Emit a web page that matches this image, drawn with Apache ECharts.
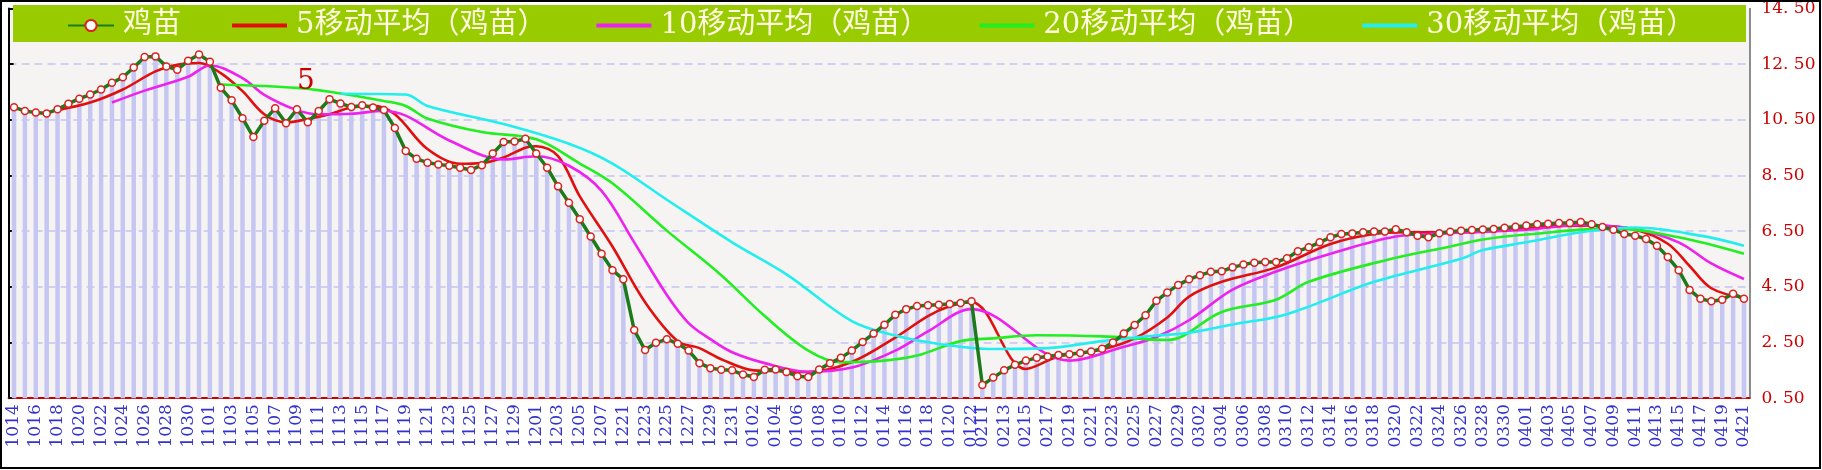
<!DOCTYPE html>
<html>
<head>
<meta charset="utf-8">
<script src="https://cdn.jsdelivr.net/npm/echarts@6/dist/echarts.min.js"></script>
<style>
  html, body { margin: 0; padding: 0; background: #fff; }
  #main { width: 1822px; height: 470px; }
</style>
</head>
<body>
<div id="main"></div>
<script>
// date ranges [month, firstDay, lastDay] -> category labels MMDD
const dateRanges = [
  ['10', 14, 31], ['11', 1, 30], ['12', 1, 8], ['12', 21, 31],
  ['01', 1, 22], ['02', 11, 29], ['03', 1, 31], ['04', 1, 21]
];
const categories = [];
dateRanges.forEach(([m, a, b]) => {
  for (let d = a; d <= b; d++) categories.push(m + String(d).padStart(2, '0'));
});

// 鸡苗 price
const chickValues = [
  10.95, 10.82, 10.76, 10.73, 10.88, 11.08, 11.26, 11.41, 11.59, 11.83,
  12.03, 12.38, 12.76, 12.78, 12.42, 12.30, 12.62, 12.85, 12.59, 11.65,
  11.20, 10.56, 9.88, 10.47, 10.92, 10.38, 10.88, 10.41, 10.82, 11.24,
  11.09, 10.96, 11.02, 10.94, 10.85, 10.21, 9.38, 9.10, 8.96, 8.90,
  8.85, 8.78, 8.70, 8.87, 9.29, 9.70, 9.72, 9.82, 9.29, 8.78,
  8.11, 7.52, 6.93, 6.31, 5.69, 5.10, 4.77, 2.95, 2.23, 2.49,
  2.62, 2.46, 2.21, 1.76, 1.58, 1.52, 1.50, 1.35, 1.26, 1.52,
  1.53, 1.44, 1.29, 1.26, 1.53, 1.76, 1.95, 2.21, 2.52, 2.82,
  3.14, 3.50, 3.70, 3.81, 3.84, 3.86, 3.88, 3.92, 3.98, 0.97,
  1.24, 1.50, 1.70, 1.85, 1.95, 2.00, 2.05, 2.08, 2.12, 2.18,
  2.28, 2.50, 2.82, 3.13, 3.48, 4.00, 4.30, 4.57, 4.77, 4.92,
  5.04, 5.06, 5.20, 5.30, 5.37, 5.39, 5.39, 5.53, 5.78, 5.92,
  6.10, 6.28, 6.40, 6.42, 6.46, 6.49, 6.49, 6.57, 6.46, 6.34,
  6.28, 6.43, 6.48, 6.52, 6.54, 6.56, 6.58, 6.62, 6.66, 6.70,
  6.75, 6.77, 6.79, 6.79, 6.83, 6.75, 6.65, 6.55, 6.40, 6.34,
  6.22, 5.98, 5.57, 5.10, 4.39, 4.07, 3.98, 4.04, 4.25, 4.07
];

// moving averages as [category index, value]
const ma5 = [[4,10.85],[7,11.12],[10,11.59],[13,12.24],[15,12.48],[17,12.54],[19,12.18],[21,11.53],[23,10.70],[25,10.41],[27,10.53],[29,10.70],[31,10.94],[33,11.00],[35,10.70],[38,9.45],[41,8.92],[43,8.95],[45,9.15],[47,9.50],[48,9.55],[50,9.20],[52,7.75],[55,5.95],[58,3.95],[61,2.55],[63,2.30],[65,1.90],[68,1.50],[71,1.47],[73,1.44],[77,1.80],[81,2.68],[84,3.45],[86,3.80],[88,3.95],[93,1.55],[96,2.00],[100,2.25],[103,2.65],[106,3.40],[108,4.15],[111,4.68],[116,5.20],[121,6.04],[125,6.40],[128,6.46],[133,6.46],[139,6.60],[141,6.69],[145,6.70],[149,6.55],[152,6.05],[154,5.25],[156,4.45],[159,4.10]];
const ma10 = [[9,11.12],[12,11.55],[16,12.05],[18,12.45],[21,12.00],[23,11.40],[26,10.85],[28,10.70],[31,10.72],[34,10.82],[36,10.65],[40,9.76],[45,9.08],[48,9.19],[51,8.85],[54,7.95],[57,6.10],[60,4.21],[62,3.20],[64,2.62],[66,2.15],[69,1.76],[73,1.45],[77,1.60],[81,2.21],[84,2.90],[88,3.70],[97,1.85],[102,2.35],[105,2.70],[108,3.30],[112,4.40],[116,5.05],[121,5.69],[127,6.31],[132,6.43],[139,6.55],[144,6.72],[149,6.57],[153,6.10],[156,5.34],[159,4.78]];
const ma20 = [[19,11.77],[26,11.65],[29,11.51],[34,11.18],[36,11.00],[38,10.55],[43,10.06],[48,9.80],[52,8.93],[55,8.22],[60,6.52],[65,4.92],[69,3.45],[73,2.21],[76,1.79],[80,1.85],[83,2.03],[87,2.55],[90,2.65],[94,2.76],[100,2.72],[106,2.59],[111,3.60],[116,4.04],[119,4.68],[126,5.45],[132,5.95],[135,6.20],[139,6.38],[147,6.60],[153,6.28],[159,5.69]];
const ma30 = [[30,11.44],[36,11.41],[38,11.00],[45,10.35],[51,9.64],[55,8.93],[60,7.63],[66,6.10],[71,4.95],[77,3.27],[81,2.75],[85,2.45],[90,2.27],[95,2.30],[100,2.55],[105,2.75],[108,2.85],[112,3.15],[117,3.52],[125,4.68],[133,5.51],[135,5.82],[139,6.10],[144,6.46],[149,6.63],[155,6.34],[159,5.98]];

const seriesNames = ['鸡苗', '5移动平均（鸡苗）', '10移动平均（鸡苗）', '20移动平均（鸡苗）', '30移动平均（鸡苗）'];
const yMin = 0.5, yMax = 14.5, yStep = 2;

const chart = echarts.init(document.getElementById('main'));
const serif = 'DejaVu Serif, Liberation Serif, Noto Sans CJK SC';
const maLine = (name, data, color) => ({
  name, type: 'line', data, symbol: 'none', smooth: 0.35,
  lineStyle: { color, width: 2.6 }, itemStyle: { color }, z: 3
});
const yBase = {
  type: 'value', min: yMin, max: yMax, interval: yStep
};
const legendText = { color: '#fffbe0', fontSize: 29, fontFamily: serif, padding: [0, 0, 0, 4] };
const labelEvery = (i) => (i <= 88 ? i % 2 === 0 : i % 2 === 1);

chart.setOption({
  animation: false,
  backgroundColor: '#fff',
  graphic: [
    { type: 'rect', shape: { x: 1, y: 1, width: 1819, height: 467 }, style: { fill: 'none', stroke: '#000', lineWidth: 2 }, z: 100 },
    { type: 'rect', shape: { x: 13, y: 5, width: 1733, height: 37 }, style: { fill: '#99cc00' }, z: 1 },
    { type: 'text', left: 297, top: 68, style: { text: '5', fill: '#cc0000', font: '28px ' + serif }, z: 10 }
  ],
  legend: [
    {
      left: 62, top: 6, itemWidth: 46, itemHeight: 14,
      data: [seriesNames[0]], textStyle: legendText
    },
    {
      left: 227, top: 6, itemGap: 50, itemWidth: 55, itemHeight: 4,
      icon: 'rect',
      data: seriesNames.slice(1), textStyle: legendText
    }
  ],
  grid: {
    left: 8.6, right: 72.6, top: 2.8, bottom: 71.8,
    show: true, backgroundColor: '#f6f4f2', borderWidth: 0
  },
  xAxis: {
    type: 'category', data: categories, boundaryGap: true,
    axisLine: { lineStyle: { color: '#cc0000', width: 2 } },
    axisTick: {
      inside: true, length: 6, lineStyle: { color: '#cc0000', width: 2 },
      alignWithLabel: true, interval: labelEvery
    },
    axisLabel: {
      rotate: 90, color: '#3333cc', fontSize: 17, fontFamily: serif, margin: 6,
      interval: labelEvery
    }
  },
  yAxis: [
    Object.assign({}, yBase, {
      position: 'right',
      axisLine: { show: true, lineStyle: { color: '#666', width: 1.5 } },
      axisTick: { show: false },
      splitLine: { show: true, lineStyle: { color: '#c4c4f4', type: [8, 5], width: 1.5 } },
      axisLabel: {
        color: '#cc0000', fontSize: 17, fontFamily: serif, margin: 12,
        formatter: (v) => v.toFixed(2).replace('.', '. ')
      }
    }),
    Object.assign({}, yBase, {
      position: 'left',
      axisLine: { show: true, lineStyle: { color: '#000', width: 2 } },
      axisTick: { show: true, inside: true, length: 5, lineStyle: { color: '#000', width: 2 } },
      axisLabel: { show: false },
      splitLine: { show: false }
    })
  ],
  series: [
    {
      name: 'bars', type: 'bar', data: chickValues, barWidth: 4.5,
      itemStyle: { color: '#c6c6f2' }, z: 1, legendHoverLink: false
    },
    {
      name: seriesNames[0], type: 'line', data: chickValues,
      symbol: 'circle', symbolSize: 7, showAllSymbol: true,
      lineStyle: { color: '#1b7a1b', width: 3.5 },
      itemStyle: { color: '#fff', borderColor: '#dd2020', borderWidth: 1.5 },
      z: 4
    },
    maLine(seriesNames[1], ma5, '#e01010'),
    maLine(seriesNames[2], ma10, '#ee22ee'),
    maLine(seriesNames[3], ma20, '#22ee22'),
    maLine(seriesNames[4], ma30, '#22eeee')
  ]
});
</script>
</body>
</html>
